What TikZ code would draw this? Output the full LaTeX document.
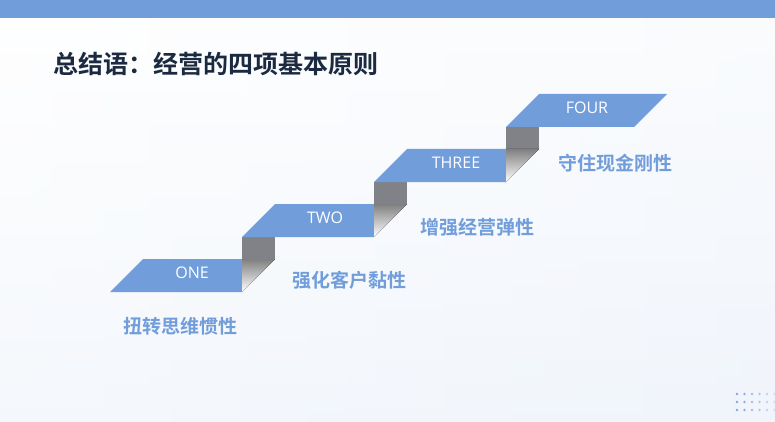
\documentclass[tikz,border=0pt]{standalone}
\usepackage{fontspec}
\setmainfont{Noto Sans CJK SC}
\newfontfamily\cjkb{Noto Sans CJK SC Bold}
\newfontfamily\latn{Open Sans}
\definecolor{stepblue}{HTML}{719DDB}
\definecolor{titlec}{HTML}{1B2A40}
\definecolor{rise}{HTML}{808287}
\definecolor{shade}{HTML}{4A5C7A}
\tikzset{
  lbl/.style={font=\cjkb\fontsize{19}{22}\selectfont, text=stepblue, anchor=west, inner sep=0},
  num/.style={font=\latn\fontsize{16}{18}\selectfont, text=white, inner sep=0}
}
\begin{document}
\begin{tikzpicture}[x=1pt,y=-1pt]
\useasboundingbox (0,0) rectangle (775,422);
\shade[left color=white, right color=white!80!stepblue!40] (0,0) rectangle (775,422);
\shade[top color=white!0!white, bottom color=stepblue!12, opacity=0.6] (0,0) rectangle (775,422);
\fill[stepblue] (0,0) rectangle (775,18);
\node[anchor=west, inner sep=0, font=\cjkb\fontsize{25}{28}\selectfont, text=titlec] (title) at (53,64) {总结语：经营的四项基本原则};
% steps
\foreach \i in {0,1,2} {
  \pgfmathsetmacro{\bl}{110+132*\i}
  \pgfmathsetmacro{\bot}{292-55*\i}
  \fill[stepblue] (\bl,\bot) -- (\bl+33,\bot-33) -- (\bl+165,\bot-33) -- (\bl+132,\bot) -- cycle;
  \fill[rise] (\bl+132,\bot-55) rectangle (\bl+165,\bot-33);
  \fill[shade] (\bl+132,\bot-33) -- (\bl+165,\bot-33) -- (\bl+132,\bot) -- cycle;
}
\fill[stepblue] (506,127) -- (539,94) -- (667,94) -- (634,127) -- cycle;
\node[num] (one) at (192,273) {ONE};
\node[num] (two) at (325,218) {TWO};
\node[num] (three) at (456,163) {THREE};
\node[num] (four) at (587,108) {FOUR};
\node[lbl] (l1) at (123,326) {扭转思维惯性};
\node[lbl] (l2) at (292,280) {强化客户黏性};
\node[lbl] (l3) at (420,227) {增强经营弹性};
\node[lbl] (l4) at (558,163) {守住现金刚性};
% dots
\foreach \r in {0,1,2} \foreach \c in {0,...,5} {
  \pgfmathsetmacro{\op}{0.9-0.13*\c}
  \fill[stepblue, opacity=\op] (737+7.5*\c,394+8*\r) circle (1.4);
}
\end{tikzpicture}
\end{document}
